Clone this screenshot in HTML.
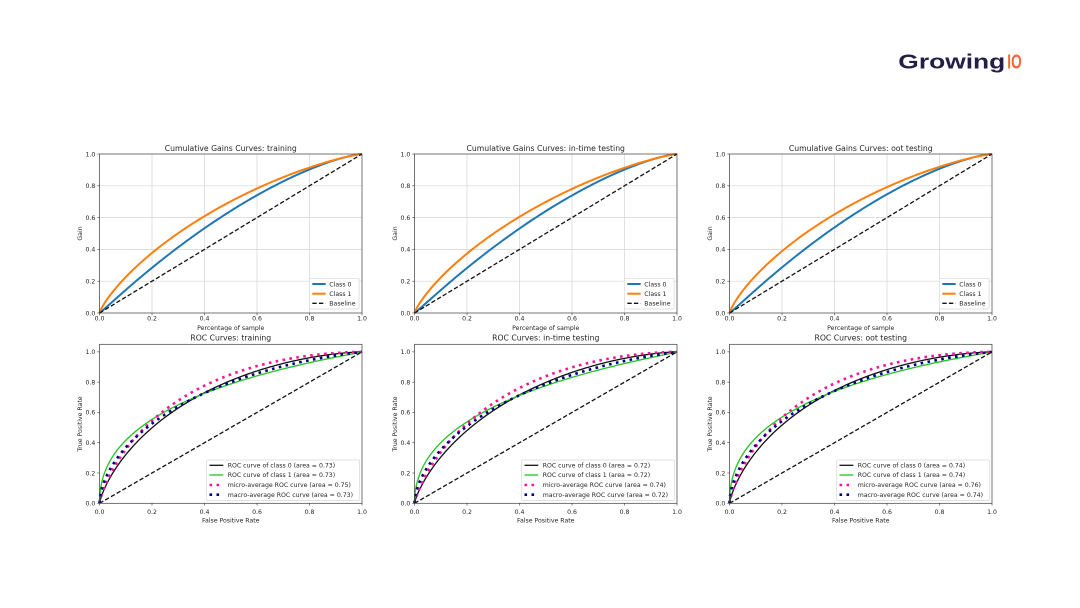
<!DOCTYPE html>
<html><head><meta charset="utf-8">
<style>
html,body{margin:0;padding:0;background:#fff;}
svg{display:block;}
text{font-family:"DejaVu Sans","Liberation Sans",sans-serif;fill:#262626;}
.t{font-size:7.7px;text-anchor:middle;}
.k{font-size:6.2px;}
.ky{font-size:6.2px;text-anchor:end;}
.kx{font-size:6.2px;text-anchor:middle;}
.lg{font-size:6.2px;}
</style></head><body>
<svg id="s" width="1080" height="608" viewBox="0 0 1080 608" xmlns="http://www.w3.org/2000/svg">
<rect width="1080" height="608" fill="#fff"/>
<text x="898.3" y="68.3" textLength="107" lengthAdjust="spacingAndGlyphs" style="font-family:'Liberation Sans',sans-serif;font-weight:bold;font-size:20px;fill:#231f46;">Growing</text>
<text x="1007.3" y="68.3" textLength="14.4" lengthAdjust="spacingAndGlyphs" style="font-family:'Liberation Sans',sans-serif;font-weight:bold;font-size:20px;fill:#f4673a;">IO</text>
<g id="plots"></g>

<g id="c0">
<text class="t" x="230.75" y="151" textLength="132" lengthAdjust="spacingAndGlyphs">Cumulative Gains Curves: training</text>
<text class="t" x="230.75" y="340.7">ROC Curves: training</text>
</g>
<g transform="translate(315,0)">
<text class="t" x="230.75" y="151">Cumulative Gains Curves: in-time testing</text>
<text class="t" x="230.75" y="340.7">ROC Curves: in-time testing</text>
</g>
<g transform="translate(630,0)">
<text class="t" x="230.75" y="151">Cumulative Gains Curves: oot testing</text>
<text class="t" x="230.75" y="340.7">ROC Curves: oot testing</text>
</g>

<g id="axlab0">
<text class="ky" x="95.3" y="315.3">0.0</text>
<text class="ky" x="95.3" y="283.5">0.2</text>
<text class="ky" x="95.3" y="251.7">0.4</text>
<text class="ky" x="95.3" y="219.9">0.6</text>
<text class="ky" x="95.3" y="188.1">0.8</text>
<text class="ky" x="95.3" y="156.3">1.0</text>
<text class="kx" x="99.5" y="320.7">0.0</text>
<text class="kx" x="152" y="320.7">0.2</text>
<text class="kx" x="204.5" y="320.7">0.4</text>
<text class="kx" x="257" y="320.7">0.6</text>
<text class="kx" x="309.5" y="320.7">0.8</text>
<text class="kx" x="362" y="320.7">1.0</text>
<text class="kx" x="230.75" y="330">Percentage of sample</text>
<text class="kx" transform="translate(81.8,233.5) rotate(-90)">Gain</text>
<text class="ky" x="95.3" y="505.6">0.0</text>
<text class="ky" x="95.3" y="475.3">0.2</text>
<text class="ky" x="95.3" y="445.0">0.4</text>
<text class="ky" x="95.3" y="414.7">0.6</text>
<text class="ky" x="95.3" y="384.5">0.8</text>
<text class="ky" x="95.3" y="354.2">1.0</text>
<text class="kx" x="99.5" y="514">0.0</text>
<text class="kx" x="152" y="514">0.2</text>
<text class="kx" x="204.5" y="514">0.4</text>
<text class="kx" x="257" y="514">0.6</text>
<text class="kx" x="309.5" y="514">0.8</text>
<text class="kx" x="362" y="514">1.0</text>
<text class="kx" x="230.75" y="522.7">False Positive Rate</text>
<text class="kx" transform="translate(82,424) rotate(-90)">True Positive Rate</text>
</g>
<g transform="translate(315,0)">
<text class="ky" x="95.3" y="315.3">0.0</text>
<text class="ky" x="95.3" y="283.5">0.2</text>
<text class="ky" x="95.3" y="251.7">0.4</text>
<text class="ky" x="95.3" y="219.9">0.6</text>
<text class="ky" x="95.3" y="188.1">0.8</text>
<text class="ky" x="95.3" y="156.3">1.0</text>
<text class="kx" x="99.5" y="320.7">0.0</text>
<text class="kx" x="152" y="320.7">0.2</text>
<text class="kx" x="204.5" y="320.7">0.4</text>
<text class="kx" x="257" y="320.7">0.6</text>
<text class="kx" x="309.5" y="320.7">0.8</text>
<text class="kx" x="362" y="320.7">1.0</text>
<text class="kx" x="230.75" y="330">Percentage of sample</text>
<text class="kx" transform="translate(81.8,233.5) rotate(-90)">Gain</text>
<text class="ky" x="95.3" y="505.6">0.0</text>
<text class="ky" x="95.3" y="475.3">0.2</text>
<text class="ky" x="95.3" y="445.0">0.4</text>
<text class="ky" x="95.3" y="414.7">0.6</text>
<text class="ky" x="95.3" y="384.5">0.8</text>
<text class="ky" x="95.3" y="354.2">1.0</text>
<text class="kx" x="99.5" y="514">0.0</text>
<text class="kx" x="152" y="514">0.2</text>
<text class="kx" x="204.5" y="514">0.4</text>
<text class="kx" x="257" y="514">0.6</text>
<text class="kx" x="309.5" y="514">0.8</text>
<text class="kx" x="362" y="514">1.0</text>
<text class="kx" x="230.75" y="522.7">False Positive Rate</text>
<text class="kx" transform="translate(82,424) rotate(-90)">True Positive Rate</text>
</g>
<g transform="translate(630,0)">
<text class="ky" x="95.3" y="315.3">0.0</text>
<text class="ky" x="95.3" y="283.5">0.2</text>
<text class="ky" x="95.3" y="251.7">0.4</text>
<text class="ky" x="95.3" y="219.9">0.6</text>
<text class="ky" x="95.3" y="188.1">0.8</text>
<text class="ky" x="95.3" y="156.3">1.0</text>
<text class="kx" x="99.5" y="320.7">0.0</text>
<text class="kx" x="152" y="320.7">0.2</text>
<text class="kx" x="204.5" y="320.7">0.4</text>
<text class="kx" x="257" y="320.7">0.6</text>
<text class="kx" x="309.5" y="320.7">0.8</text>
<text class="kx" x="362" y="320.7">1.0</text>
<text class="kx" x="230.75" y="330">Percentage of sample</text>
<text class="kx" transform="translate(81.8,233.5) rotate(-90)">Gain</text>
<text class="ky" x="95.3" y="505.6">0.0</text>
<text class="ky" x="95.3" y="475.3">0.2</text>
<text class="ky" x="95.3" y="445.0">0.4</text>
<text class="ky" x="95.3" y="414.7">0.6</text>
<text class="ky" x="95.3" y="384.5">0.8</text>
<text class="ky" x="95.3" y="354.2">1.0</text>
<text class="kx" x="99.5" y="514">0.0</text>
<text class="kx" x="152" y="514">0.2</text>
<text class="kx" x="204.5" y="514">0.4</text>
<text class="kx" x="257" y="514">0.6</text>
<text class="kx" x="309.5" y="514">0.8</text>
<text class="kx" x="362" y="514">1.0</text>
<text class="kx" x="230.75" y="522.7">False Positive Rate</text>
<text class="kx" transform="translate(82,424) rotate(-90)">True Positive Rate</text>
</g>

<g id="legends">
<g>
<rect x="309.3" y="278.3" width="49.8" height="30.7" rx="1.5" fill="#fff" fill-opacity="0.85" stroke="#d6d6d6" stroke-width="0.7"/>
<line x1="312.3" y1="284" x2="325.7" y2="284" stroke="#1f77b4" stroke-width="2"/>
<line x1="312.3" y1="293.7" x2="325.7" y2="293.7" stroke="#ff7f0e" stroke-width="2"/>
<line x1="312.3" y1="303.3" x2="325.7" y2="303.3" stroke="#111" stroke-width="1.3" stroke-dasharray="4.4 2.2"/>
<text class="lg" x="329.3" y="286.3">Class 0</text>
<text class="lg" x="329.3" y="296">Class 1</text>
<text class="lg" x="329.3" y="305.7">Baseline</text>
<rect x="206.7" y="460" width="153" height="40.5" rx="1.5" fill="#fff" fill-opacity="0.85" stroke="#d6d6d6" stroke-width="0.7"/>
<line x1="209.5" y1="465.3" x2="223.3" y2="465.3" stroke="#111" stroke-width="1.3"/>
<line x1="209.5" y1="475" x2="223.3" y2="475" stroke="#22c422" stroke-width="1.3"/>
<line x1="209.5" y1="485" x2="223.3" y2="485" stroke="#ff1493" stroke-width="2.6" stroke-dasharray="2.6 4.4"/>
<line x1="209.5" y1="494.7" x2="223.3" y2="494.7" stroke="#000080" stroke-width="2.6" stroke-dasharray="2.6 4.4"/>
<text class="lg" x="227.7" y="467.5">ROC curve of class 0 (area = 0.73)</text>
<text class="lg" x="227.7" y="477.2">ROC curve of class 1 (area = 0.73)</text>
<text class="lg" x="227.7" y="487.2">micro-average ROC curve (area = 0.75)</text>
<text class="lg" x="227.7" y="496.9">macro-average ROC curve (area = 0.73)</text>
</g>
<g transform="translate(315,0)">
<rect x="309.3" y="278.3" width="49.8" height="30.7" rx="1.5" fill="#fff" fill-opacity="0.85" stroke="#d6d6d6" stroke-width="0.7"/>
<line x1="312.3" y1="284" x2="325.7" y2="284" stroke="#1f77b4" stroke-width="2"/>
<line x1="312.3" y1="293.7" x2="325.7" y2="293.7" stroke="#ff7f0e" stroke-width="2"/>
<line x1="312.3" y1="303.3" x2="325.7" y2="303.3" stroke="#111" stroke-width="1.3" stroke-dasharray="4.4 2.2"/>
<text class="lg" x="329.3" y="286.3">Class 0</text>
<text class="lg" x="329.3" y="296">Class 1</text>
<text class="lg" x="329.3" y="305.7">Baseline</text>
<rect x="206.7" y="460" width="153" height="40.5" rx="1.5" fill="#fff" fill-opacity="0.85" stroke="#d6d6d6" stroke-width="0.7"/>
<line x1="209.5" y1="465.3" x2="223.3" y2="465.3" stroke="#111" stroke-width="1.3"/>
<line x1="209.5" y1="475" x2="223.3" y2="475" stroke="#22c422" stroke-width="1.3"/>
<line x1="209.5" y1="485" x2="223.3" y2="485" stroke="#ff1493" stroke-width="2.6" stroke-dasharray="2.6 4.4"/>
<line x1="209.5" y1="494.7" x2="223.3" y2="494.7" stroke="#000080" stroke-width="2.6" stroke-dasharray="2.6 4.4"/>
<text class="lg" x="227.7" y="467.5">ROC curve of class 0 (area = 0.72)</text>
<text class="lg" x="227.7" y="477.2">ROC curve of class 1 (area = 0.72)</text>
<text class="lg" x="227.7" y="487.2">micro-average ROC curve (area = 0.74)</text>
<text class="lg" x="227.7" y="496.9">macro-average ROC curve (area = 0.72)</text>
</g>
<g transform="translate(630,0)">
<rect x="309.3" y="278.3" width="49.8" height="30.7" rx="1.5" fill="#fff" fill-opacity="0.85" stroke="#d6d6d6" stroke-width="0.7"/>
<line x1="312.3" y1="284" x2="325.7" y2="284" stroke="#1f77b4" stroke-width="2"/>
<line x1="312.3" y1="293.7" x2="325.7" y2="293.7" stroke="#ff7f0e" stroke-width="2"/>
<line x1="312.3" y1="303.3" x2="325.7" y2="303.3" stroke="#111" stroke-width="1.3" stroke-dasharray="4.4 2.2"/>
<text class="lg" x="329.3" y="286.3">Class 0</text>
<text class="lg" x="329.3" y="296">Class 1</text>
<text class="lg" x="329.3" y="305.7">Baseline</text>
<rect x="206.7" y="460" width="153" height="40.5" rx="1.5" fill="#fff" fill-opacity="0.85" stroke="#d6d6d6" stroke-width="0.7"/>
<line x1="209.5" y1="465.3" x2="223.3" y2="465.3" stroke="#111" stroke-width="1.3"/>
<line x1="209.5" y1="475" x2="223.3" y2="475" stroke="#22c422" stroke-width="1.3"/>
<line x1="209.5" y1="485" x2="223.3" y2="485" stroke="#ff1493" stroke-width="2.6" stroke-dasharray="2.6 4.4"/>
<line x1="209.5" y1="494.7" x2="223.3" y2="494.7" stroke="#000080" stroke-width="2.6" stroke-dasharray="2.6 4.4"/>
<text class="lg" x="227.7" y="467.5">ROC curve of class 0 (area = 0.74)</text>
<text class="lg" x="227.7" y="477.2">ROC curve of class 1 (area = 0.74)</text>
<text class="lg" x="227.7" y="487.2">micro-average ROC curve (area = 0.76)</text>
<text class="lg" x="227.7" y="496.9">macro-average ROC curve (area = 0.74)</text>
</g>
</g>
</svg>
<script>
(function(){
var NS="http://www.w3.org/2000/svg";
var root=document.getElementById("plots");
function el(tag,attrs,parent){var e=document.createElementNS(NS,tag);for(var k in attrs)e.setAttribute(k,attrs[k]);(parent||root).appendChild(e);return e;}
function erf(x){var s=x<0?-1:1;x=Math.abs(x);var t=1/(1+0.3275911*x);
 var y=1-(((((1.061405429*t-1.453152027)*t)+1.421413741)*t-0.284496736)*t+0.254829592)*t*Math.exp(-x*x);return s*y;}
function Phi(z){return 0.5*(1+erf(z/Math.SQRT2));}
function invPhi(p){
 var a=[-3.969683028665376e+01,2.209460984245205e+02,-2.759285104469687e+02,1.383577518672690e+02,-3.066479806614716e+01,2.506628277459239e+00];
 var b=[-5.447609879822406e+01,1.615858368580409e+02,-1.556989798598866e+02,6.680131188771972e+01,-1.328068155288572e+01];
 var c=[-7.784894002430293e-03,-3.223964580411365e-01,-2.400758277161838e+00,-2.549671010322533e+00,4.374664141464968e+00,2.938163982698783e+00];
 var d=[7.784695709041462e-03,3.224671290700398e-01,2.445134137142996e+00,3.754408661907416e+00];
 var pl=0.02425,q,r;
 if(p<pl){q=Math.sqrt(-2*Math.log(p));return (((((c[0]*q+c[1])*q+c[2])*q+c[3])*q+c[4])*q+c[5])/((((d[0]*q+d[1])*q+d[2])*q+d[3])*q+1);}
 if(p>1-pl){q=Math.sqrt(-2*Math.log(1-p));return -(((((c[0]*q+c[1])*q+c[2])*q+c[3])*q+c[4])*q+c[5])/((((d[0]*q+d[1])*q+d[2])*q+d[3])*q+1);}
 q=p-0.5;r=q*q;return (((((a[0]*r+a[1])*r+a[2])*r+a[3])*r+a[4])*r+a[5])*q/(((((b[0]*r+b[1])*r+b[2])*r+b[3])*r+b[4])*r+1);}
function bn(a,b){return function(x){if(x<=0)return 0;if(x>=1)return 1;return Phi(a+b*invPhi(x));};}
var xs=[0,0.0005,0.001,0.002,0.004,0.007,0.01,0.015];
for(var i=2;i<100;i++)xs.push(i/100);xs.push(0.995,1);
function pth(f,X,Y0,W,H){var s="";for(var i=0;i<xs.length;i++){var x=xs[i];s+=(i?"L":"M")+(X+W*x).toFixed(2)+","+(Y0-H*f(x)).toFixed(2);}return s;}

var gp=[[0.53,0.364,1.11],[0.52,0.36,1.11],[0.56,0.38,1.12]];
/* [black a, green a, micro a] */
var rp=[[0.88,0.80,1.04],[0.835,0.76,0.99],[0.925,0.84,1.09]];
var W=262.5;
for(var c=0;c<3;c++){
 var X=99.5+315*c;
 var T=154,B=313,H=159;
 var ticks=[0,0.2,0.4,0.6,0.8,1];
 for(var j=1;j<5;j++){
  var t=ticks[j];
  el("line",{x1:X+W*t,y1:T,x2:X+W*t,y2:B,stroke:"#d4d4d4","stroke-width":0.7});
  el("line",{x1:X,y1:B-H*t,x2:X+W,y2:B-H*t,stroke:"#d4d4d4","stroke-width":0.7});
 }
 var ob=bn(gp[c][0],1), bl=bn(gp[c][1],gp[c][2]);
 el("path",{d:pth(bl,X,B,W,H),fill:"none",stroke:"#1f77b4","stroke-width":2,"stroke-linejoin":"round"});
 el("path",{d:pth(ob,X,B,W,H),fill:"none",stroke:"#ff7f0e","stroke-width":2,"stroke-linejoin":"round"});
 el("line",{x1:X,y1:B,x2:X+W,y2:T,stroke:"#111","stroke-width":1.3,"stroke-dasharray":"4.4 2.2"});
 el("rect",{x:X,y:T,width:W,height:H,fill:"none",stroke:"#3a3a3a","stroke-width":0.7});
 for(var j=0;j<6;j++){var t=ticks[j];
  el("line",{x1:X+W*t,y1:B,x2:X+W*t,y2:B+2.2,stroke:"#3a3a3a","stroke-width":0.6});
  el("line",{x1:X-2.2,y1:B-H*t,x2:X,y2:B-H*t,stroke:"#3a3a3a","stroke-width":0.6});
 }
 var RT=344.3,RB=503.3,RH=151.43;
 var k0=bn(rp[c][0],1.05), k1=bn(rp[c][1],0.79), mi=bn(rp[c][2],1.1);
 var ma=function(f0,f1){return function(x){return 0.5*(f0(x)+f1(x));};}(k0,k1);
 el("path",{d:pth(k0,X,RB,W,RH),fill:"none",stroke:"#111","stroke-width":1.3});
 el("path",{d:pth(k1,X,RB,W,RH),fill:"none",stroke:"#22c422","stroke-width":1.3});
 el("path",{d:pth(mi,X,RB,W,RH),fill:"none",stroke:"#ff1493","stroke-width":2.6,"stroke-dasharray":"2.6 4.4"});
 el("path",{d:pth(ma,X,RB,W,RH),fill:"none",stroke:"#000080","stroke-width":2.6,"stroke-dasharray":"2.6 4.4"});
 el("line",{x1:X,y1:RB,x2:X+W,y2:RB-RH,stroke:"#111","stroke-width":1.3,"stroke-dasharray":"4.4 2.2"});
 el("rect",{x:X,y:RT,width:W,height:RB-RT,fill:"none",stroke:"#3a3a3a","stroke-width":0.7});
 for(var j=0;j<6;j++){var t=ticks[j];
  el("line",{x1:X+W*t,y1:RB,x2:X+W*t,y2:RB+2.2,stroke:"#3a3a3a","stroke-width":0.6});
  el("line",{x1:X-2.2,y1:RB-RH*t,x2:X,y2:RB-RH*t,stroke:"#3a3a3a","stroke-width":0.6});
 }
}
})();
</script>
</body></html>
